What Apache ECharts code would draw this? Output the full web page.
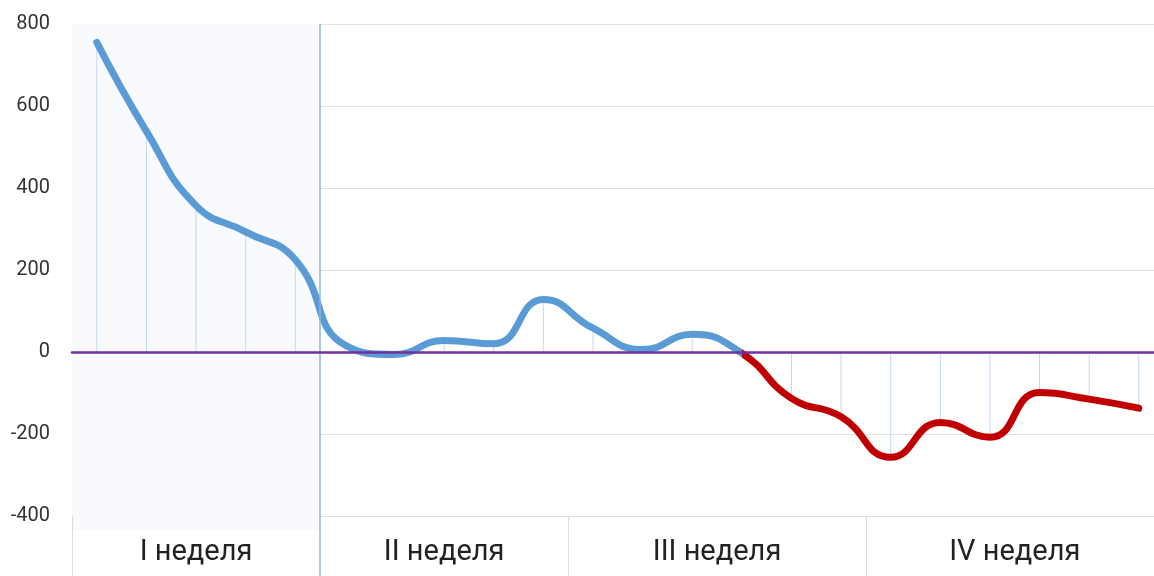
<!DOCTYPE html>
<html>
<head>
<meta charset="utf-8">
<script src="https://cdn.jsdelivr.net/npm/echarts@6/dist/echarts.min.js"></script>
<style>
  html, body { margin: 0; padding: 0; background: #ffffff; }
  #chart { width: 1154px; height: 576px; }
</style>
</head>
<body>
<div id="chart"></div>
<script>
  // daily balance, 22 working days
  let days = ['1','2','3','4','5','6','7','8','9','10','11','12','13','14','15','16','17','18','19','20','21','22'];
  let values = [755, 538, 357, 293, 225, 17, -6, 28, 20, 128, 58, 6, 43, -3, -113, -158, -257, -172, -208, -99, -115, -137];
  let weekNames = ['I неделя', 'II неделя', 'III неделя', 'IV неделя'];
  let weekBounds = [0, 5, 10, 16, 22]; // day boundaries of the weeks
  let yMin = -400, yMax = 800, yStep = 200;

  // red from the start of the final run of negative days
  let redFrom = values.length - 1;
  while (redFrom > 0 && values[redFrom - 1] < 0) redFrom--;

  let chart = echarts.init(document.getElementById('chart'));

  // week band boxes + labels
  let weekAreas = weekNames.map(function (name, i) {
    return [{ name: name, xAxis: weekBounds[i] }, { xAxis: weekBounds[i + 1] }];
  });
  let weekLines = weekBounds.slice(0, -1).map(function (b, i) {
    return { xAxis: b, lineStyle: { color: i == 1 ? '#8fb4dc' : '#dddddd', width: i == 1 ? 1.5 : 1.2, type: 'solid' } };
  });

  let option = {
    backgroundColor: '#ffffff',
    animation: false,
    grid: [
      { left: 72, top: 24, width: 1091.6, height: 492, containLabel: false, outerBoundsMode: 'none' },
      { left: 72, top: 516, width: 1091.6, height: 60, containLabel: false, outerBoundsMode: 'none' }
    ],
    xAxis: [
      {
        type: 'category', gridIndex: 0, data: days, boundaryGap: true, z: 10,
        axisLine: { show: true, onZero: true, lineStyle: { color: '#7030a0', width: 2.5 } },
        axisTick: { show: false }, axisLabel: { show: false }, splitLine: { show: false }
      },
      {
        type: 'value', gridIndex: 0, min: 0, max: days.length, show: false
      },
      {
        type: 'value', gridIndex: 1, min: 0, max: days.length, position: 'top',
        axisLine: { show: true, lineStyle: { color: '#dddddd', width: 1.2 } },
        axisTick: { show: false }, axisLabel: { show: false }, splitLine: { show: false }
      }
    ],
    yAxis: [
      {
        type: 'value', gridIndex: 0, min: yMin, max: yMax, interval: yStep,
        axisLine: { show: false }, axisTick: { show: false },
        axisLabel: { color: '#333333', fontSize: 20, fontFamily: 'Roboto', margin: 22 },
        splitLine: { lineStyle: { color: '#e0e0e0', width: 1.2 } }
      },
      { type: 'value', gridIndex: 1, min: 0, max: 1, show: false }
    ],
    visualMap: {
      type: 'piecewise', show: false, seriesIndex: 0, dimension: 0,
      pieces: [
        { gte: -1, lt: redFrom, color: '#5b9bd5' },
        { gte: redFrom, lte: days.length, color: '#c00000' }
      ]
    },
    series: [
      {
        name: 'balance', type: 'line', xAxisIndex: 0, yAxisIndex: 0, z: 4,
        data: values, smooth: 0.5, showSymbol: false, symbol: 'none',
        lineStyle: { width: 7, cap: 'round', join: 'round' }
      },
      {
        name: 'drops', type: 'bar', xAxisIndex: 0, yAxisIndex: 0, z: 3,
        data: values, barWidth: 1,
        itemStyle: { color: '#c4d8ee' }
      },
      {
        name: 'week1', type: 'line', xAxisIndex: 1, yAxisIndex: 0, z: 1, data: [],
        markArea: {
          silent: true,
          itemStyle: { color: '#f8fafd' },
          data: [[{ xAxis: weekBounds[0] }, { xAxis: weekBounds[1] }]]
        },
        markLine: {
          silent: true, symbol: 'none', label: { show: false },
          lineStyle: { color: '#8fb4dc', width: 1.5, type: 'solid' },
          data: [{ xAxis: weekBounds[1] }]
        }
      },
      {
        name: 'weeks', type: 'line', xAxisIndex: 2, yAxisIndex: 1, data: [],
        markArea: {
          silent: true,
          itemStyle: { color: 'transparent' },
          label: { show: true, position: 'inside', color: '#222222', fontSize: 29, fontFamily: 'Roboto', offset: [0, 7] },
          data: weekAreas.concat([[
            { name: '', xAxis: weekBounds[0], yAxis: 0.77, itemStyle: { color: '#f8fafd' } },
            { xAxis: weekBounds[1], yAxis: 1 }
          ]])
        },
        markLine: {
          silent: true, symbol: 'none', label: { show: false },
          data: weekLines
        }
      }
    ]
  };

  chart.setOption(option);
  window.addEventListener('resize', function () {
    chart.resize();
  });
</script>
</body>
</html>
